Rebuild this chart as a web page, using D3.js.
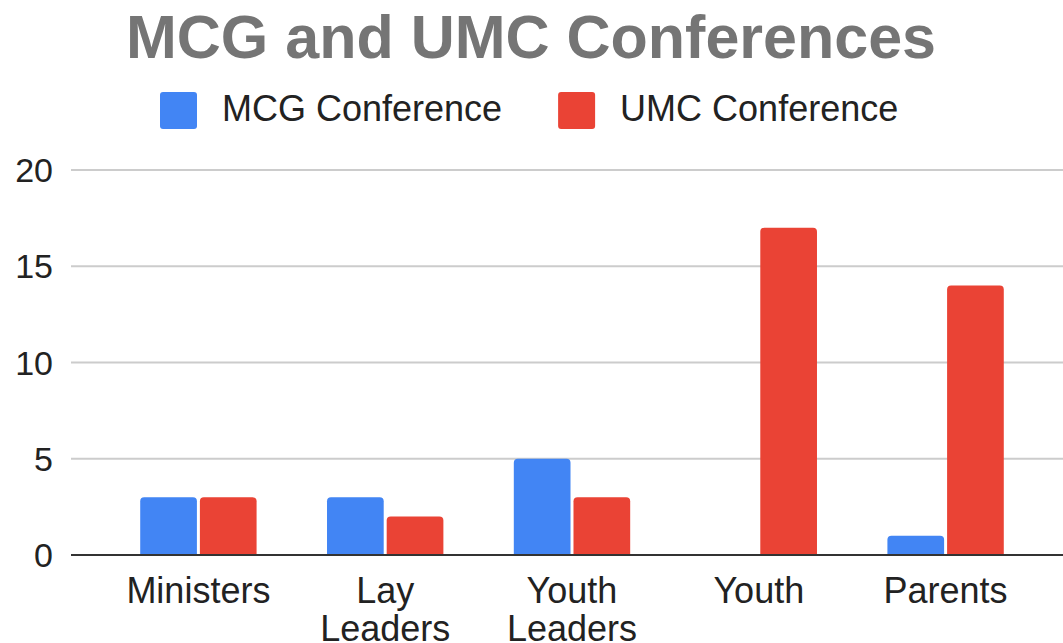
<!DOCTYPE html>
<html>
<head>
<meta charset="utf-8">
<script src="https://cdn.jsdelivr.net/npm/d3@7"></script>
<style>
  body { margin: 0; background: #fff; }
  text { font-family: "Liberation Sans", Arial, sans-serif; }
</style>
</head>
<body>
<div id="chart"></div>
<script>
// data
const categories = ["Ministers", "Lay Leaders", "Youth Leaders", "Youth", "Parents"];
const seriesNames = ["MCG Conference", "UMC Conference"];
const mcgValues = [3, 3, 5, 0, 1];
const umcValues = [3, 2, 3, 17, 14];
const yTicks = [0, 5, 10, 15, 20];
const colors = ["#4285F4", "#EA4335"];

const width = 1063, height = 643;

const rows = categories.map((c, i) => ({ category: c, values: [mcgValues[i], umcValues[i]] }));

const svg = d3.select("#chart").append("svg")
  .attr("width", width)
  .attr("height", height);

// title
svg.append("text")
  .attr("x", 531)
  .attr("y", 58)
  .attr("text-anchor", "middle")
  .style("font-size", "61px")
  .style("font-weight", "bold")
  .style("fill", "#757575")
  .text("MCG and UMC Conferences");

// legend
const legend = svg.append("g");
let lx = 160;
seriesNames.forEach((name, i) => {
  legend.append("rect")
    .attr("x", lx).attr("y", 92)
    .attr("width", 37).attr("height", 37)
    .attr("rx", 3)
    .attr("fill", colors[i]);
  const t = legend.append("text")
    .attr("x", lx + 62)
    .attr("y", 121)
    .style("font-size", "36px")
    .style("fill", "#222")
    .text(name);
  lx += 62 + t.node().getComputedTextLength() + 56;
});

// scales
const y = d3.scaleLinear().domain([0, 20]).range([555, 170]);

const x = d3.scaleBand()
  .domain(categories)
  .range([105, 1039])
  .paddingInner(0.377)
  .paddingOuter(0.1885);

const xSub = d3.scaleBand()
  .domain(seriesNames)
  .range([0, x.bandwidth()])
  .paddingInner(0.05);

// gridlines
svg.append("g")
  .selectAll("line")
  .data(yTicks.filter(d => d !== 0))
  .join("line")
  .attr("x1", 71).attr("x2", width)
  .attr("y1", d => y(d)).attr("y2", d => y(d))
  .attr("stroke", "#cccccc")
  .attr("stroke-width", 2);

// y tick labels
svg.append("g")
  .selectAll("text")
  .data(yTicks)
  .join("text")
  .attr("x", 53)
  .attr("y", d => y(d))
  .attr("dy", "0.36em")
  .attr("text-anchor", "end")
  .style("font-size", "34px")
  .style("fill", "#222")
  .text(d => d);

// bars with rounded top corners
function topRounded(x0, y0, w, h, r) {
  if (h <= 0) return "";
  r = Math.min(r, h, w / 2);
  return `M${x0},${y0 + h}V${y0 + r}Q${x0},${y0} ${x0 + r},${y0}H${x0 + w - r}Q${x0 + w},${y0} ${x0 + w},${y0 + r}V${y0 + h}Z`;
}

const groups = svg.append("g")
  .selectAll("g")
  .data(rows)
  .join("g")
  .attr("transform", d => `translate(${x(d.category)},0)`);

groups.selectAll("path")
  .data(d => d.values.map((v, i) => ({ key: seriesNames[i], value: v, i })))
  .join("path")
  .attr("fill", d => colors[d.i])
  .attr("d", d => topRounded(xSub(d.key), y(d.value), xSub.bandwidth(), y(0) - y(d.value), 4));

// baseline
svg.append("line")
  .attr("x1", 71).attr("x2", width)
  .attr("y1", y(0)).attr("y2", y(0))
  .attr("stroke", "#333")
  .attr("stroke-width", 2);

// category labels (wrap when wider than the band step)
const labels = svg.append("g")
  .selectAll("text")
  .data(categories)
  .join("text")
  .attr("x", d => x(d) + x.bandwidth() / 2)
  .attr("y", 603)
  .attr("text-anchor", "middle")
  .style("font-size", "36px")
  .style("fill", "#222")
  .text(d => d);

labels.each(function(d) {
  const el = d3.select(this);
  if (this.getComputedTextLength() > x.step()) {
    const cx = x(d) + x.bandwidth() / 2;
    el.text(null);
    d.split(" ").forEach((w, i) => {
      el.append("tspan")
        .attr("x", cx)
        .attr("dy", i ? 38 : 0)
        .text(w);
    });
  }
});
</script>
</body>
</html>
